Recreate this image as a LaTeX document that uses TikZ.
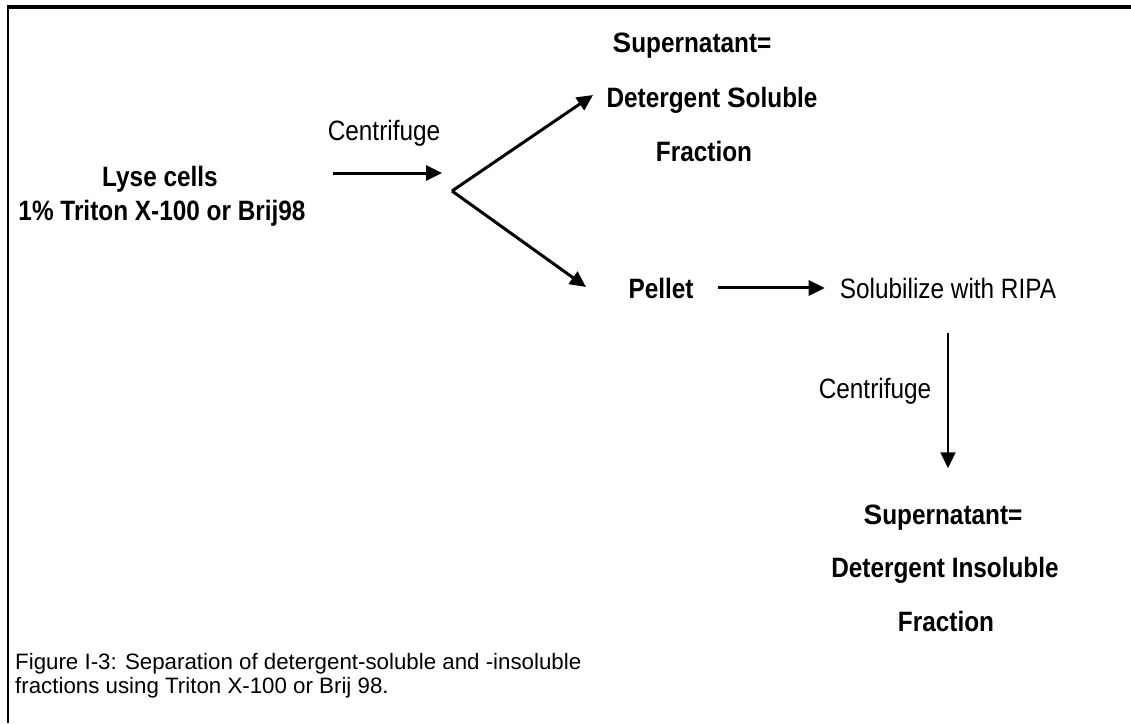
\documentclass[tikz,border=0pt]{standalone}
\usepackage{fontspec}
\setmainfont{Liberation Sans}
\newfontfamily\narrowfont{Liberation Sans}[FakeStretch=0.87]
\newfontfamily\widefont{Liberation Sans}
\usetikzlibrary{arrows.meta}
\newcommand\wideS{{\widefont\bfseries S}}
\tikzset{
  step text/.style={anchor=base,inner sep=0pt,font=\narrowfont\fontsize{28}{34}\selectfont\bfseries},
  note text/.style={anchor=base,inner sep=0pt,font=\narrowfont\fontsize{28}{34}\selectfont},
  flow/.style={line width=3pt,-{Triangle[length=16pt,width=15pt]}},
}
\begin{document}
\begin{tikzpicture}[x=1pt,y=-1pt]
\useasboundingbox[fill=white] (0,0) rectangle (1131,723);
% frame
\draw[line width=2.2pt] (8,723) -- (8,7);
\draw[line width=3.2pt] (7,7) -- (1131,7);
% start
\node[step text] (lyse) at (160,186) {Lyse cells};
\node[step text] (triton) at (162,220) {1\% Triton X-100 or Brij98};
\node[note text] (spin1) at (384,140) {Centrifuge};
\coordinate (in) at (333,173);
\coordinate (out) at (442,173);
\coordinate (fork) at (452,191);
\coordinate (uptip) at (593,95);
\coordinate (downtip) at (586,287);
\draw[flow] (in) -- (out);
\draw[flow] (fork) -- (uptip);
\draw[flow] (fork) -- (downtip);
% soluble branch
\node[step text] (sup1a) at (692,52) {\wideS upernatant=};
\node[step text] (sup1b) at (712,107) {Detergent \wideS oluble};
\node[step text] (sup1c) at (704,161) {Fraction};
% insoluble branch
\node[step text] (pellet) at (661,298) {Pellet};
\node[note text] (ripa) at (948,298) {Solubilize with RIPA};
\draw[flow] (pellet.east) ++(24,0) -- ([xshift=-15pt]ripa.west);
\node[note text] (spin2) at (875,398) {Centrifuge};
\node[step text] (sup2a) at (943,524) {\wideS upernatant=};
\node[step text] (sup2b) at (945,577) {Detergent Insoluble};
\node[step text] (sup2c) at (946,631) {Fraction};
\draw[flow,line width=2.2pt,shorten <=35pt,shorten >=36pt] (ripa.south) -- (ripa.south |- sup2a.north);
% caption
\node[anchor=base west,inner sep=0pt,align=left,font=\fontsize{22.3}{24}\selectfont] (caption) at (15,693)
  {Figure I-3: Separation of detergent-soluble and -insoluble\\fractions using Triton X-100 or Brij 98.};
\end{tikzpicture}
\end{document}
